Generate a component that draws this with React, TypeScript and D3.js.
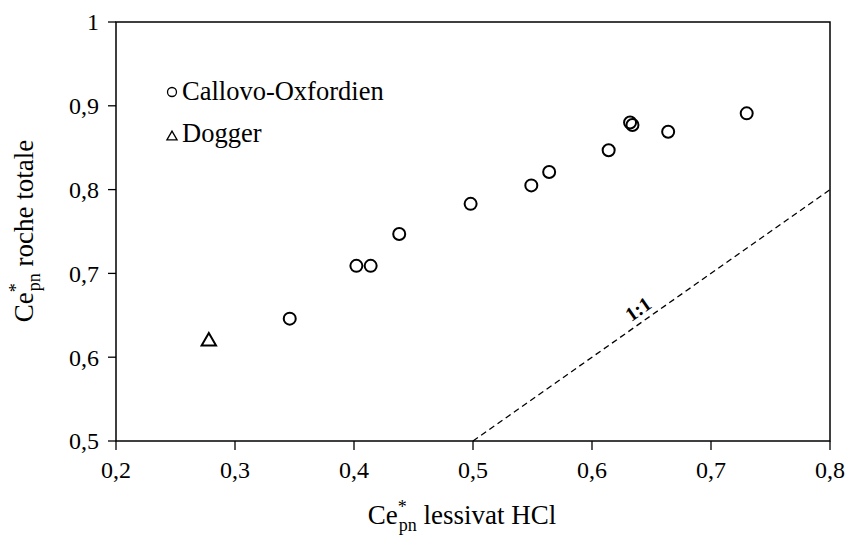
import React from "react";
import * as d3 from "d3";

// Ce*pn values: HCl leachate (x) vs whole rock (y)
const calloX = [0.346, 0.402, 0.414, 0.438, 0.498, 0.549, 0.564, 0.614, 0.632, 0.634, 0.664, 0.730];
const calloY = [0.646, 0.709, 0.709, 0.747, 0.783, 0.805, 0.821, 0.847, 0.880, 0.877, 0.869, 0.891];
const doggerX = [0.278];
const doggerY = [0.620];
const oneToOne = [0.5, 0.8];
const xTicks = [0.2, 0.3, 0.4, 0.5, 0.6, 0.7, 0.8];
const yTicks = [0.5, 0.6, 0.7, 0.8, 0.9, 1];
const legendItems = ["Callovo-Oxfordien", "Dogger"];

const fmt = (v: number) => String(v).replace(".", ",");
const ff = { fontFamily: "Liberation Serif" };

const App: React.FC = () => {
  const width = 856;
  const height = 536;
  const margin = { top: 22, right: 26, bottom: 95, left: 116 };

  const x = d3.scaleLinear().domain([0.2, 0.8]).range([margin.left, width - margin.right]);
  const y = d3.scaleLinear().domain([0.5, 1]).range([height - margin.bottom, margin.top]);

  const tri = d3.symbol().type(d3.symbolTriangle).size(90)()!;
  const line = d3
    .line<number>()
    .x((d) => x(d))
    .y((d) => y(d));

  const angle = (Math.atan2(y(0.8) - y(0.5), x(0.8) - x(0.5)) * 180) / Math.PI;
  const lab = 0.645;

  return (
    <svg width={width} height={height} style={{ position: "absolute", left: 0, top: 0 }}>
      <rect width={width} height={height} fill="#fff" />

      {/* frame */}
      <rect
        x={x(0.2)}
        y={y(1)}
        width={x(0.8) - x(0.2)}
        height={y(0.5) - y(1)}
        fill="none"
        stroke="#000"
        strokeWidth={1.5}
      />

      {/* x axis */}
      {xTicks.map((t) => (
        <g key={"x" + t}>
          <line x1={x(t)} x2={x(t)} y1={y(0.5)} y2={y(0.5) + 9} stroke="#000" strokeWidth={1.3} />
          <text x={x(t)} y={478} textAnchor="middle" fontSize={24} style={ff}>
            {fmt(t)}
          </text>
        </g>
      ))}

      {/* y axis */}
      {yTicks.map((t) => (
        <g key={"y" + t}>
          <line x1={x(0.2) - 8} x2={x(0.2)} y1={y(t)} y2={y(t)} stroke="#000" strokeWidth={1.3} />
          <text x={99} y={y(t)} dy="0.35em" textAnchor="end" fontSize={24} style={ff}>
            {fmt(t)}
          </text>
        </g>
      ))}

      {/* 1:1 line */}
      <path
        d={line(oneToOne) || ""}
        fill="none"
        stroke="#000"
        strokeWidth={1.3}
        strokeDasharray="6,4"
      />
      <text
        transform={`translate(${x(lab)},${y(lab)}) rotate(${angle})`}
        dy={-6}
        textAnchor="middle"
        fontSize={20}
        fontWeight="bold"
        style={ff}
      >
        1:1
      </text>

      {/* points */}
      {calloX.map((v, i) => (
        <circle key={i} cx={x(v)} cy={y(calloY[i])} r={6} fill="none" stroke="#000" strokeWidth={2} />
      ))}
      {doggerX.map((v, i) => (
        <path
          key={i}
          d={tri}
          transform={`translate(${x(v)},${y(doggerY[i]) + 1})`}
          fill="none"
          stroke="#000"
          strokeWidth={2}
        />
      ))}

      {/* legend */}
      <circle cx={172} cy={92} r={4.5} fill="none" stroke="#000" strokeWidth={1.3} />
      <text x={182} y={100} fontSize={26.5} style={ff}>
        {legendItems[0]}
      </text>
      <path
        d={d3.symbol().type(d3.symbolTriangle).size(45)()!}
        transform="translate(172,137)"
        fill="none"
        stroke="#000"
        strokeWidth={1.3}
      />
      <text x={182} y={142} fontSize={26.5} style={ff}>
        {legendItems[1]}
      </text>

      {/* axis titles */}
      <text x={462} y={524} textAnchor="middle" fontSize={27} style={ff}>
        Ce
        <tspan fontSize={18} dy={-11}>*</tspan>
        <tspan fontSize={18} dy={18} dx={-8}>pn</tspan>
        <tspan dy={-7}> lessivat HCl</tspan>
      </text>
      <text transform="translate(33,231) rotate(-90)" textAnchor="middle" fontSize={27} style={ff}>
        Ce
        <tspan fontSize={18} dy={-11}>*</tspan>
        <tspan fontSize={18} dy={18} dx={-8}>pn</tspan>
        <tspan dy={-7}> roche totale</tspan>
      </text>
    </svg>
  );
};

export default App;
